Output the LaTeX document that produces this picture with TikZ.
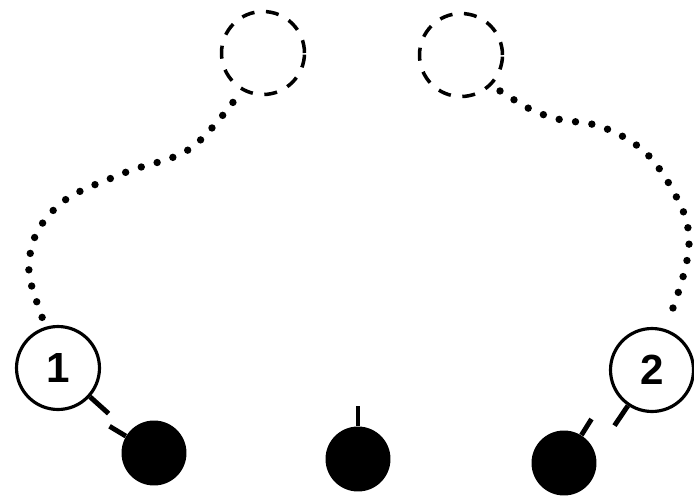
\documentclass[tikz,border=0pt]{standalone}
\usepackage{fontspec}
\setsansfont{Liberation Sans}

\tikzstyle{atom} = [circle, draw, line width=1.8pt, minimum size=1.66cm, inner sep=0pt, font=\sffamily\bfseries\fontsize{24}{24}\selectfont]
\tikzstyle{ghost} = [circle, draw, line width=2pt, minimum size=1.66cm, dash pattern=on 7.4pt off 6.6pt]
\tikzstyle{ball} = [circle, fill, minimum size=1.3cm, inner sep=0pt]
\tikzstyle{stub} = [line width=2.8pt]
\tikzstyle{trail} = [line width=4.2pt, line cap=round, dash pattern=on 0pt off 9.4pt]

\begin{document}
\begin{tikzpicture}[x=0.02cm, y=-0.02cm]
\useasboundingbox (0,0) rectangle (694,501);

\node[ghost] (ghostL) at (263,53) {};
\node[ghost] (ghostR) at (461,55) {};
\node[atom] (n1) at (58,368) {1};
\node[atom] (n2) at (652,370) {2};
\node[ball] (a) at (154,453) {};
\node[ball] (b) at (358,459) {};
\node[ball] (c) at (564,463) {};

\draw[stub] (n1.-42) -- ++(-42:0.5cm);
\draw[stub] (n2.-124) -- ++(-124:0.48cm);
\draw[stub] (a.149) -- ++(149:0.38cm);
\draw[stub] (b.90) -- ++(90:0.4cm);
\draw[stub] (c.58) -- ++(58:0.38cm);

\draw[trail, shorten <=0.2cm, shorten >=0.36cm] plot[smooth, tension=0.6] coordinates {(n1.107) (30,255) (60,204) (124,173) (191,148) (ghostL.240)};
\draw[trail, shorten <=0.2cm, shorten >=0.4cm] plot[smooth, tension=0.6] coordinates {(ghostR.-45) (547,116) (602,127) (647,154) (679,202) (689,238) (683,277) (n2.72)};
\end{tikzpicture}
\end{document}
